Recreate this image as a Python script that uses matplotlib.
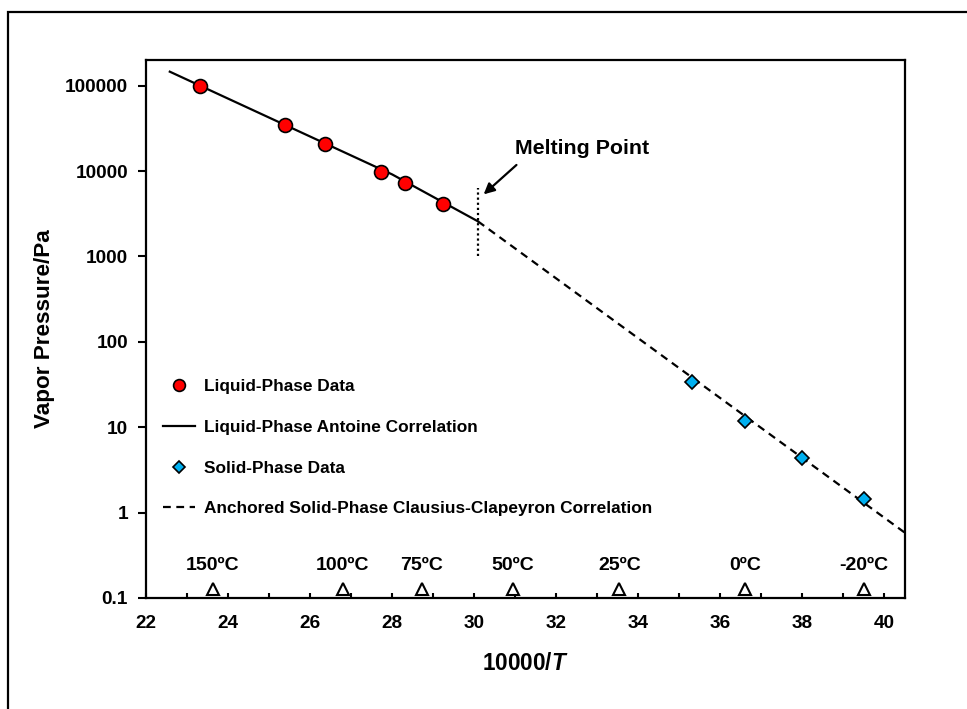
import numpy as np
import matplotlib
matplotlib.use("Agg")
import matplotlib.pyplot as plt
from matplotlib.patches import Rectangle
from matplotlib.ticker import FixedLocator, MultipleLocator

plt.rcParams['font.family'] = ['Liberation Sans', 'DejaVu Sans']
plt.rcParams['font.weight'] = 'bold'
plt.rcParams['mathtext.fontset'] = 'custom'
plt.rcParams['mathtext.bfit'] = 'Liberation Sans:italic:bold'

# liquid-phase measurements (10000/T, Pa)
liq_x = [23.32, 25.39, 26.36, 27.72, 28.31, 29.23]
liq_p = [100000, 34800, 20800, 9730, 7230, 4090]

# Antoine correlation
ant_x = [22.58, 24.0, 26.0, 28.0, 30.09]
ant_p = [146000, 70600, 25400, 9140, 2580]

# solid-phase measurements
sol_x = [35.30, 36.59, 37.98, 39.49]
sol_p = [34, 11.8, 4.4, 1.45]

# anchored Clausius-Clapeyron line
cc_x = [30.09, 40.5]
cc_p = [2580, 0.58]

# melting point marker
melt_x = 30.09
melt_p = [1000, 6300]

# temperature reference marks
temps_c = [150, 100, 75, 50, 25, 0, -20]
temp_labels = ['150ºC', '100ºC', '75ºC', '50ºC', '25ºC', '0ºC', '-20ºC']
temp_x = [10000 / (t + 273.15) for t in temps_c]
temp_marker_p = 0.127

y_ticks = [0.1, 1, 10, 100, 1000, 10000, 100000]
y_ticklabels = ['0.1', '1', '10', '100', '1000', '10000', '100000']

fig = plt.figure(figsize=(9.67, 7.09), dpi=100)
ax = fig.add_axes([146 / 967, 1 - 598 / 709, (905 - 146) / 967, (598 - 60) / 709])

# outer frame (cropped at right and bottom)
fig.patches.append(Rectangle((8 / 967, -0.1), 1.2, 1.1 - 12 / 709, transform=fig.transFigure,
                             fill=False, lw=1.6, edgecolor='black'))

ax.plot(ant_x, ant_p, color='black', lw=1.6, label='Liquid-Phase Antoine Correlation', zorder=3)
ax.plot(cc_x, cc_p, color='black', lw=1.6, ls=(0, (3.5, 2.5)),
        label='Anchored Solid-Phase Clausius-Clapeyron Correlation', zorder=3)
ax.plot([melt_x, melt_x], melt_p, color='black', lw=1.6, ls=(0, (1, 1.3)), zorder=3)

ax.plot(liq_x, liq_p, 'o', ms=10, mfc='#FF0000', mec='black', mew=1.2, ls='none',
        label='Liquid-Phase Data', zorder=4)
ax.plot(sol_x, sol_p, 'D', ms=7, mfc='#00B0F0', mec='black', mew=1.2, ls='none',
        label='Solid-Phase Data', zorder=4)

ax.plot(temp_x, [temp_marker_p] * len(temp_x), '^', ms=9, mfc='white', mec='black',
        mew=1.5, ls='none', zorder=4, clip_on=False)
for x, lab in zip(temp_x, temp_labels):
    ax.annotate(lab, (x, temp_marker_p), xytext=(0, 17), textcoords='offset points',
                ha='center', va='center', fontsize=14, fontweight='bold')

ax.text(32.62, 18150, 'Melting Point', ha='center', va='center', fontsize=15.4, fontweight='bold')
ax.annotate('', xy=(30.18, 5080), xytext=(31.08, 12400),
            arrowprops=dict(arrowstyle='-|>', color='black', lw=1.6, mutation_scale=16))

ax.set_yscale('log')
ax.set_xlim(22, 40.5)
ax.set_ylim(0.1, 2e5)
ax.yaxis.set_major_locator(FixedLocator(y_ticks))
ax.set_yticklabels(y_ticklabels)
ax.yaxis.set_minor_locator(FixedLocator([]))
ax.xaxis.set_major_locator(MultipleLocator(2))
ax.xaxis.set_minor_locator(MultipleLocator(1))

ax.tick_params(axis='y', which='major', direction='out', length=6, width=1.5, pad=7, labelsize=13.7)
ax.tick_params(axis='x', which='both', direction='in', length=3.8, width=1.5, pad=12, labelsize=13.7)
for lab in ax.get_xticklabels() + ax.get_yticklabels():
    lab.set_fontweight('bold')
for s in ax.spines.values():
    s.set_linewidth(1.6)

ax.set_xlabel('10000/$\\mathbfit{T}$', fontsize=16.3, fontweight='bold', labelpad=15)
ax.set_ylabel('Vapor Pressure/Pa', fontsize=16.2, fontweight='bold', labelpad=7)

handles, labels = ax.get_legend_handles_labels()
order = [2, 0, 3, 1]
leg = ax.legend([handles[i] for i in order], [labels[i] for i in order],
                loc='center left', bbox_to_anchor=(0.022, 0.2795), frameon=False,
                fontsize=12.4, borderpad=0, borderaxespad=0, handlelength=1.86,
                handletextpad=0.55, labelspacing=1.5, markerscale=0.85)
for t in leg.get_texts():
    t.set_fontweight('bold')

fig.savefig('out.png', dpi=100)
